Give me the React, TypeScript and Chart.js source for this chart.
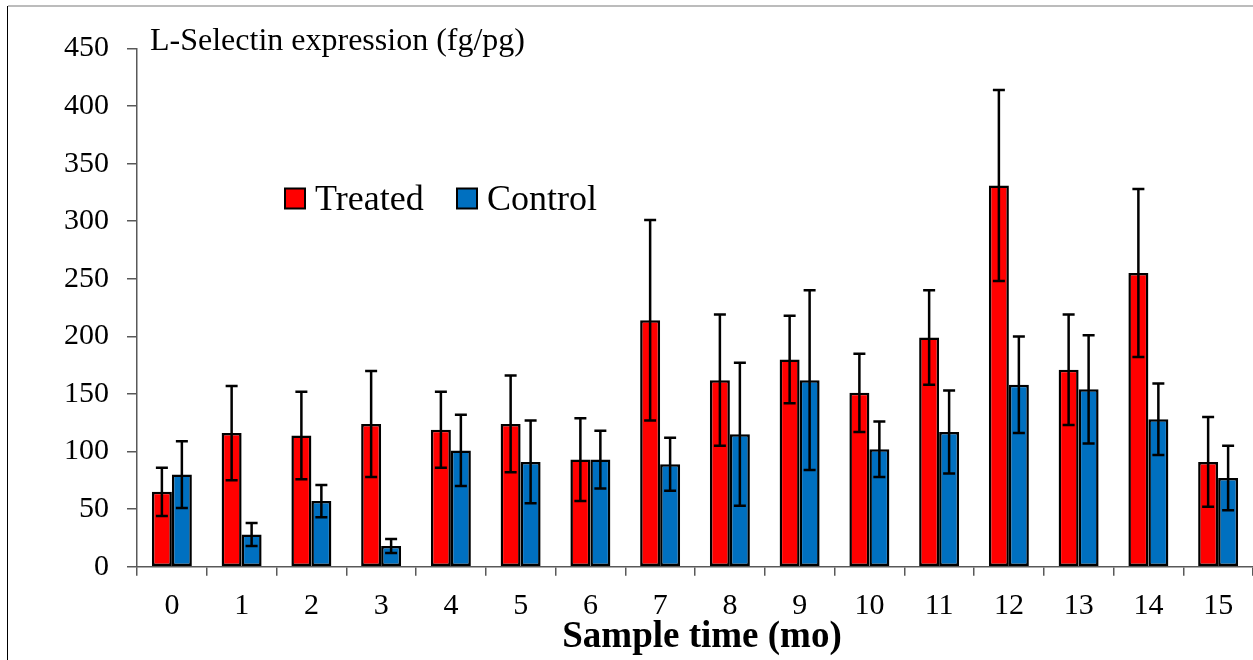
import React, { useEffect, useRef } from "react";
import { Chart, registerables } from "chart.js";

Chart.register(...registerables);

const categories = ["0", "1", "2", "3", "4", "5", "6", "7", "8", "9", "10", "11", "12", "13", "14", "15"];
const treatedValues = [65, 116, 114, 124, 119, 124, 93, 214, 162, 180, 151, 199, 331, 171, 255, 91];
const treatedErrors = [21, 41, 38, 46, 33, 42, 36, 87, 57, 38, 34, 41, 83, 48, 73, 39];
const controlValues = [80, 28, 57, 18, 101, 91, 93, 89, 115, 162, 102, 117, 158, 154, 128, 77];
const controlErrors = [29, 10, 14, 6, 31, 36, 25, 23, 62, 78, 24, 36, 42, 47, 31, 28];
const seriesNames = ["Treated", "Control"];
const seriesColors = ["#FF0000", "#0070C0"];
const yTitle = "L-Selectin expression (fg/pg)";
const xTitle = "Sample time (mo)";

const SERIF = "'Liberation Serif', 'Times New Roman', serif";

const errorBarPlugin = {
  id: "errorBars",
  afterDatasetsDraw(chart: any) {
    const ctx = chart.ctx;
    const yScale = chart.scales.y;
    const errs = [treatedErrors, controlErrors];
    ctx.save();
    ctx.strokeStyle = "#000000";
    ctx.lineWidth = 2.5;
    chart.data.datasets.forEach((ds: any, i: number) => {
      const meta = chart.getDatasetMeta(i);
      meta.data.forEach((el: any, j: number) => {
        const v = ds.data[j];
        const e = errs[i][j];
        const x = el.x;
        const yT = yScale.getPixelForValue(v + e);
        const yB = yScale.getPixelForValue(Math.max(0, v - e));
        const cap = 6;
        ctx.beginPath();
        ctx.moveTo(x, yT);
        ctx.lineTo(x, yB);
        ctx.moveTo(x - cap, yT);
        ctx.lineTo(x + cap, yT);
        ctx.moveTo(x - cap, yB);
        ctx.lineTo(x + cap, yB);
        ctx.stroke();
      });
    });
    ctx.restore();
  },
};

const decorPlugin = {
  id: "decor",
  beforeDraw(chart: any) {
    const ctx = chart.ctx;
    ctx.save();
    ctx.fillStyle = "#ffffff";
    ctx.fillRect(0, 0, chart.width, chart.height);
    ctx.strokeStyle = "#a6a6a6";
    ctx.lineWidth = 1.5;
    ctx.beginPath();
    ctx.moveTo(8, 6);
    ctx.lineTo(chart.width, 6);
    ctx.stroke();
    ctx.strokeStyle = "#000000";
    ctx.lineWidth = 1;
    ctx.beginPath();
    ctx.moveTo(7.5, 6);
    ctx.lineTo(7.5, chart.height);
    ctx.stroke();
    ctx.restore();
  },
  afterDraw(chart: any) {
    const ctx = chart.ctx;
    const area = chart.chartArea;
    ctx.save();
    ctx.fillStyle = "#000000";
    // y title inside plot
    ctx.font = `32px ${SERIF}`;
    ctx.textAlign = "left";
    ctx.textBaseline = "alphabetic";
    ctx.fillText(yTitle, area.left + 13, area.top + 1);
    // x title
    ctx.font = `bold 37px ${SERIF}`;
    ctx.textAlign = "center";
    ctx.fillText(xTitle, (area.left + area.right) / 2 + 7, 647);
    // legend
    ctx.font = `36px ${SERIF}`;
    ctx.textAlign = "left";
    const boxes = [area.left + 148, area.left + 320];
    seriesNames.forEach((name, i) => {
      const bx = boxes[i];
      const by = area.top + 140;
      ctx.fillStyle = seriesColors[i];
      ctx.fillRect(bx, by, 20, 20);
      ctx.strokeStyle = "#000000";
      ctx.lineWidth = 2;
      ctx.strokeRect(bx, by, 20, 20);
      ctx.fillStyle = "#000000";
      ctx.fillText(name, bx + 30, by + 21);
    });
    ctx.restore();
  },
};

export default function App() {
  const canvasRef = useRef<HTMLCanvasElement | null>(null);

  useEffect(() => {
    if (!canvasRef.current) return;
    const chart = new Chart(canvasRef.current, {
      type: "bar",
      data: {
        labels: categories,
        datasets: [
          {
            label: seriesNames[0],
            data: treatedValues,
            backgroundColor: seriesColors[0],
            borderColor: "#000000",
            borderWidth: 2.5,
            borderSkipped: false,
            categoryPercentage: 0.573,
            barPercentage: 1,
          },
          {
            label: seriesNames[1],
            data: controlValues,
            backgroundColor: seriesColors[1],
            borderColor: "#000000",
            borderWidth: 2.5,
            borderSkipped: false,
            categoryPercentage: 0.573,
            barPercentage: 1,
          },
        ],
      },
      options: {
        responsive: false,
        animation: false,
        devicePixelRatio: 1,
        layout: { padding: { top: 48.5, left: 0, right: 0, bottom: 0 } },
        plugins: {
          legend: { display: false },
          title: { display: false },
          tooltip: { enabled: false },
        },
        scales: {
          x: {
            grid: {
              drawOnChartArea: false,
              drawTicks: true,
              tickLength: 9,
              color: "#595959",
              lineWidth: 1.5,
            },
            border: { color: "#595959", width: 1.5 },
            ticks: {
              color: "#000000",
              font: { family: SERIF, size: 30 },
              padding: 12,
              maxRotation: 0,
              autoSkip: false,
            },
            afterFit(scale: any) {
              scale.height = 660 - 566.7;
            },
          },
          y: {
            min: 0,
            max: 450,
            grid: {
              drawOnChartArea: false,
              drawTicks: true,
              tickLength: 10,
              color: "#595959",
              lineWidth: 1.5,
            },
            border: { color: "#595959", width: 1.5 },
            ticks: {
              stepSize: 50,
              color: "#000000",
              font: { family: SERIF, size: 30 },
              padding: 18,
            },
            afterFit(scale: any) {
              scale.width = 137;
            },
          },
        },
      },
      plugins: [decorPlugin, errorBarPlugin],
    });
    return () => chart.destroy();
  }, []);

  return (
    <div style={{ position: "absolute", left: 0, top: 0, width: 1253, height: 660 }}>
      <canvas ref={canvasRef} width={1253} height={660} style={{ display: "block" }} />
    </div>
  );
}
